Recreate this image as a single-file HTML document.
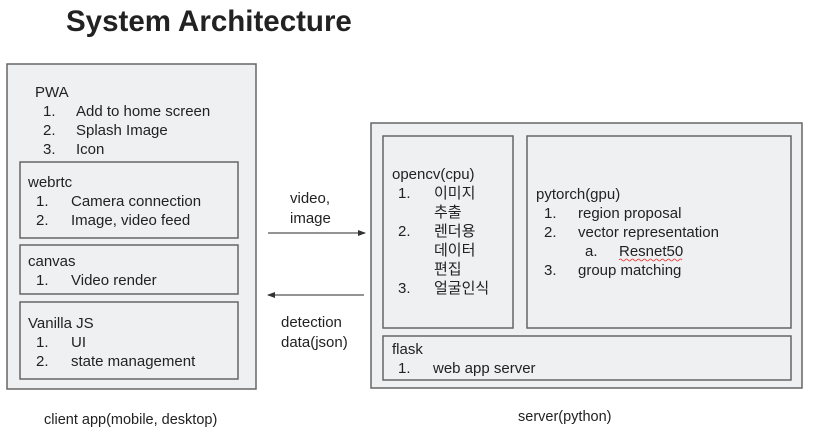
<!DOCTYPE html>
<html><head><meta charset="utf-8"><style>
html,body{margin:0;padding:0;background:#fff;}
svg{display:block;}
text{font-family:"Liberation Sans","Noto Sans CJK KR",sans-serif;font-size:15px;fill:#222;}
</style></head><body>
<svg width="816" height="437" viewBox="0 0 816 437" xmlns="http://www.w3.org/2000/svg">
<defs><marker id="ah" markerWidth="8" markerHeight="8" refX="7" refY="3" orient="auto" markerUnits="userSpaceOnUse"><path d="M0,0 L8,3 L0,6 z" fill="#333"/></marker></defs>
<text x="66" y="31" style="font-size:29.5px;font-weight:bold;fill:#222">System Architecture</text>
<g fill="#eef0f1" stroke="#666" stroke-width="1.5">
<rect x="7" y="64" width="249" height="325"/>
<rect x="20" y="162" width="218" height="76"/>
<rect x="20" y="245" width="218" height="49"/>
<rect x="20" y="302" width="218" height="77"/>
<rect x="371" y="123" width="431" height="265"/>
<rect x="383" y="136" width="130" height="192"/>
<rect x="527" y="136" width="264" height="192"/>
<rect x="383" y="336" width="408" height="44"/>
</g>
<text x="35" y="97">PWA</text>
<text x="43" y="116">1.</text><text x="76" y="116">Add to home screen</text>
<text x="43" y="135">2.</text><text x="76" y="135">Splash Image</text>
<text x="43" y="154">3.</text><text x="76" y="154">Icon</text>
<text x="28" y="187">webrtc</text>
<text x="36" y="206">1.</text><text x="71" y="206">Camera connection</text>
<text x="36" y="225">2.</text><text x="71" y="225">Image, video feed</text>
<text x="28" y="266">canvas</text>
<text x="36" y="285">1.</text><text x="71" y="285">Video render</text>
<text x="28" y="328">Vanilla JS</text>
<text x="36" y="347">1.</text><text x="71" y="347">UI</text>
<text x="36" y="366">2.</text><text x="71" y="366">state management</text>
<text x="392" y="179">opencv(cpu)</text>
<text x="398" y="198">1.</text><text x="434" y="198">이미지</text>
<text x="434" y="217">추출</text>
<text x="398" y="236">2.</text><text x="434" y="236">렌더용</text>
<text x="434" y="255">데이터</text>
<text x="434" y="274">편집</text>
<text x="398" y="293">3.</text><text x="434" y="293">얼굴인식</text>
<text x="536" y="199">pytorch(gpu)</text>
<text x="544" y="218">1.</text><text x="578" y="218">region proposal</text>
<text x="544" y="237">2.</text><text x="578" y="237">vector representation</text>
<text x="585" y="256">a.</text><text x="619" y="256">Resnet50</text>
<path d="M619 260 q1.5 -2 3 0 t3 0 t3 0 t3 0 t3 0 t3 0 t3 0 t3 0 t3 0 t3 0 t3 0 t3 0 t3 0 t3 0 t3 0 t3 0 t3 0 t3 0 t3 0 t3 0 t3 0" fill="none" stroke="#e33" stroke-width="0.8"/>
<text x="544" y="275">3.</text><text x="578" y="275">group matching</text>
<text x="392" y="354">flask</text>
<text x="398" y="373">1.</text><text x="433" y="373">web app server</text>
<line x1="268" y1="233" x2="365" y2="233" stroke="#555" stroke-width="1.2" marker-end="url(#ah)"/>
<line x1="364" y1="295" x2="268" y2="295" stroke="#555" stroke-width="1.2" marker-end="url(#ah)"/>
<text x="290" y="203">video,</text>
<text x="290" y="223">image</text>
<text x="281" y="327">detection</text>
<text x="281" y="347">data(json)</text>
<text x="44" y="424" style="font-size:14.5px">client app(mobile, desktop)</text>
<text x="518" y="421" style="font-size:14.5px">server(python)</text>
</svg>
</body></html>
